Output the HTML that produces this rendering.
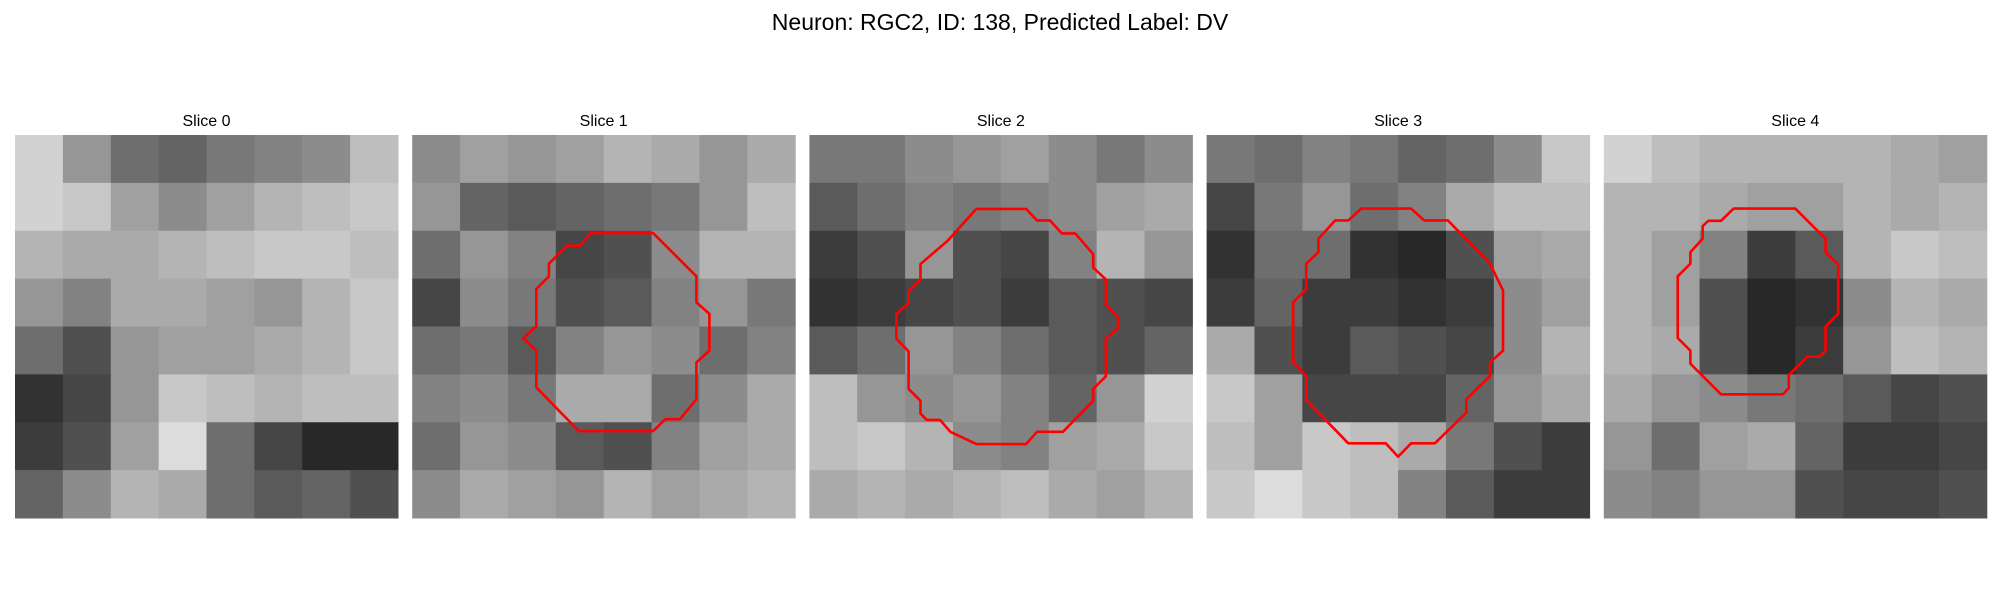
<!DOCTYPE html>
<html><head><meta charset="utf-8"><style>
html,body{margin:0;padding:0;background:#fff;width:2000px;height:600px;overflow:hidden}
svg{display:block}
</style></head><body>
<svg id="fig" width="2000" height="600" xmlns="http://www.w3.org/2000/svg">
<text x="1000" y="30" text-anchor="middle" font-family="Liberation Sans, DejaVu Sans, sans-serif" font-size="23" fill="#000">Neuron: RGC2, ID: 138, Predicted Label: DV</text>
</svg>
<script>
const sliceTitles = ["Slice 0","Slice 1","Slice 2","Slice 3","Slice 4"];
const slice0 = [
[210,150,110,100,120,130,140,190],
[210,200,160,140,160,180,190,200],
[180,170,170,180,190,200,200,190],
[150,130,170,170,160,150,180,200],
[110,80,150,160,160,170,180,200],
[50,70,150,200,190,180,190,190],
[60,80,160,220,110,70,40,40],
[100,140,180,170,110,90,100,80]];
const slice1 = [
[140,160,150,160,180,170,150,170],
[150,100,90,100,110,120,150,190],
[110,150,130,70,80,140,180,180],
[70,140,120,80,90,130,150,120],
[110,120,90,130,150,140,110,130],
[130,140,120,170,170,110,140,170],
[110,150,140,90,80,130,160,170],
[140,170,160,150,180,160,170,180]];
const slice2 = [
[120,120,140,150,160,140,120,140],
[90,110,130,120,130,140,160,170],
[60,80,150,80,70,130,180,150],
[50,60,70,80,60,90,80,70],
[90,110,150,130,110,90,80,100],
[190,150,140,150,130,100,150,210],
[190,200,180,140,130,160,170,200],
[170,180,170,180,190,170,160,180]];
const slice3 = [
[120,110,130,120,100,110,140,200],
[70,120,150,110,130,170,190,190],
[50,110,110,50,40,80,160,170],
[60,100,60,60,50,60,140,160],
[170,80,60,90,80,70,140,180],
[200,160,70,70,70,100,150,170],
[190,160,200,190,170,120,80,60],
[200,220,200,190,130,90,60,60]];
const slice4 = [
[210,190,180,180,180,180,170,160],
[180,180,170,160,160,180,170,180],
[180,160,130,60,90,180,200,190],
[180,160,80,40,50,140,180,170],
[180,170,80,40,60,150,190,180],
[170,150,140,120,110,90,70,80],
[150,110,160,170,100,60,60,70],
[140,130,150,150,80,70,70,80]];
const contour1 = [[0.467,0.256],[0.629,0.256],[0.742,0.369],[0.742,0.437],[0.776,0.467],[0.776,0.563],[0.742,0.594],[0.742,0.690],[0.699,0.742],[0.661,0.742],[0.629,0.773],[0.435,0.773],[0.324,0.659],[0.324,0.563],[0.290,0.530],[0.324,0.500],[0.324,0.402],[0.357,0.369],[0.357,0.336],[0.404,0.289],[0.438,0.289]];
const contour2 = [[0.436,0.193],[0.566,0.193],[0.594,0.223],[0.628,0.223],[0.659,0.257],[0.694,0.257],[0.741,0.311],[0.741,0.346],[0.774,0.377],[0.774,0.444],[0.806,0.477],[0.806,0.504],[0.774,0.532],[0.774,0.630],[0.741,0.663],[0.741,0.694],[0.662,0.775],[0.594,0.775],[0.566,0.807],[0.436,0.807],[0.368,0.775],[0.341,0.744],[0.306,0.744],[0.290,0.727],[0.290,0.694],[0.259,0.663],[0.259,0.565],[0.227,0.532],[0.227,0.468],[0.259,0.438],[0.259,0.407],[0.290,0.377],[0.290,0.337],[0.361,0.276]];
const contour3 = [[0.404,0.192],[0.534,0.192],[0.568,0.223],[0.630,0.223],[0.740,0.336],[0.774,0.406],[0.774,0.563],[0.740,0.594],[0.740,0.629],[0.678,0.690],[0.678,0.725],[0.596,0.805],[0.534,0.805],[0.500,0.840],[0.468,0.805],[0.370,0.805],[0.260,0.692],[0.260,0.629],[0.226,0.594],[0.226,0.437],[0.260,0.402],[0.260,0.336],[0.292,0.306],[0.292,0.271],[0.336,0.223],[0.370,0.223]];
const contour4 = [[0.339,0.192],[0.500,0.192],[0.579,0.271],[0.579,0.306],[0.612,0.338],[0.612,0.467],[0.579,0.500],[0.579,0.563],[0.564,0.579],[0.531,0.579],[0.483,0.627],[0.483,0.661],[0.468,0.677],[0.306,0.677],[0.226,0.597],[0.226,0.563],[0.193,0.530],[0.193,0.369],[0.226,0.336],[0.226,0.306],[0.258,0.271],[0.258,0.238],[0.273,0.224],[0.306,0.224]];

const slices = [slice0, slice1, slice2, slice3, slice4];
const contours = [null, contour1, contour2, contour3, contour4];
const NS = "http://www.w3.org/2000/svg";
const svg = document.getElementById('fig');
const panelX0 = 15, panelStep = 397.2, panelY = 135, panelSize = 383;
function px(i, fx){ return panelX0 + i*panelStep + fx*panelSize; }
function py(fy){ return panelY + fy*panelSize; }

slices.forEach((grid, i) => {
  const g = document.createElementNS(NS, 'g');
  
  
  svg.appendChild(g);
  const t = document.createElementNS(NS, 'text');
  
  
  t.setAttribute('x', px(i, 0.5));
  t.setAttribute('y', 126);
  t.setAttribute('text-anchor', 'middle');
  t.setAttribute('font-family', 'Liberation Sans, DejaVu Sans, sans-serif');
  t.setAttribute('font-size', '16');
  t.textContent = sliceTitles[i];
  g.appendChild(t);
  const n = grid.length;
  grid.forEach((row, r) => {
    row.forEach((v, c) => {
      const rc = document.createElementNS(NS, 'rect');
      
      
      const x0 = px(i, c/n), x1 = px(i, (c+1)/n);
      const y0 = py(r/n), y1 = py((r+1)/n);
      rc.setAttribute('x', x0);
      rc.setAttribute('y', y0);
      rc.setAttribute('width', x1 - x0 + 0.5);
      rc.setAttribute('height', y1 - y0 + 0.5);
      rc.setAttribute('fill', `rgb(${v},${v},${v})`);
      g.appendChild(rc);
    });
  });
  const cont = contours[i];
  if (cont) {
    const pl = document.createElementNS(NS, 'polygon');
    
    
    pl.setAttribute('points', cont.map(p => px(i, p[0]) + ',' + py(p[1])).join(' '));
    pl.setAttribute('fill', 'none');
    pl.setAttribute('stroke', '#ff0000');
    pl.setAttribute('stroke-width', '2.6');
    pl.setAttribute('stroke-linejoin', 'round');
    g.appendChild(pl);
  }
});
</script>
</body></html>
